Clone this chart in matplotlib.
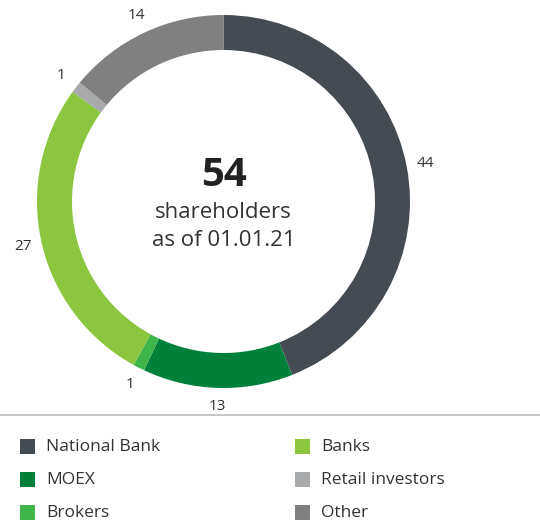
import matplotlib
matplotlib.use("Agg")
import matplotlib.pyplot as plt
from matplotlib.patches import Rectangle
import numpy as np

categories = ["National Bank", "MOEX", "Brokers", "Banks", "Retail investors", "Other"]
values = [44, 13, 1, 27, 1, 14]
colors = ["#454b53", "#00803a", "#3fb54a", "#8cc63f", "#a7a9ab", "#808080"]
total_label = "54"
subtitle = ["shareholders", "as of 01.01.21"]

plt.rcParams['font.family'] = ['Open Sans', 'DejaVu Sans']

fig = plt.figure(figsize=(5.4, 5.22), dpi=100)
ax = fig.add_axes([0, 0, 1, 1])

cx, cy, R = 223.5, 201.5, 186.5
wedges, texts = ax.pie(values, colors=colors, startangle=90, counterclock=False,
                       center=(cx, cy), radius=R, frame=True,
                       labels=[str(v) for v in values], labeldistance=1.1,
                       wedgeprops=dict(width=35, linewidth=0),
                       textprops=dict(fontsize=11, color="#333333", ha='center', va='center'))
tot = sum(values)
ang = 90.0
for t, w, v in zip(texts, wedges, values):
    span = v / tot * 360
    mid = ang - span / 2
    r = R * 1.1
    t.set_position((cx + r * np.cos(np.radians(mid)), cy - r * np.sin(np.radians(mid))))
    t.set_ha('center'); t.set_va('center')
    # y axis is inverted, mirror wedge angles
    w.set_center((cx, cy))
    w.set_theta1(-ang)
    w.set_theta2(-(ang - span))
    ang -= span

ax.set_xlim(0, 540)
ax.set_ylim(522, 0)
ax.set_aspect('equal')
ax.axis('off')

ax.text(cx, 175, total_label, fontsize=29, fontweight='bold', color="#222222", ha='center', va='center')
ax.text(cx, 212, subtitle[0], fontsize=16, color="#333333", ha='center', va='center')
ax.text(cx, 241, subtitle[1], fontsize=16, color="#333333", ha='center', va='center')

ax.plot([0, 540], [415, 415], color="#bbbbbb", lw=1.2)

legend_pos = [(20, 446), (20, 479), (20, 512), (295, 446), (295, 479), (295, 512)]
for (x, y), c, name in zip(legend_pos, colors, categories):
    ax.add_patch(Rectangle((x, y - 7.5), 15, 15, color=c, lw=0))
    ax.text(x + 26, y + 1, name, fontsize=12.5, color="#333333", ha='left', va='center')

fig.savefig("out.png", dpi=100)
